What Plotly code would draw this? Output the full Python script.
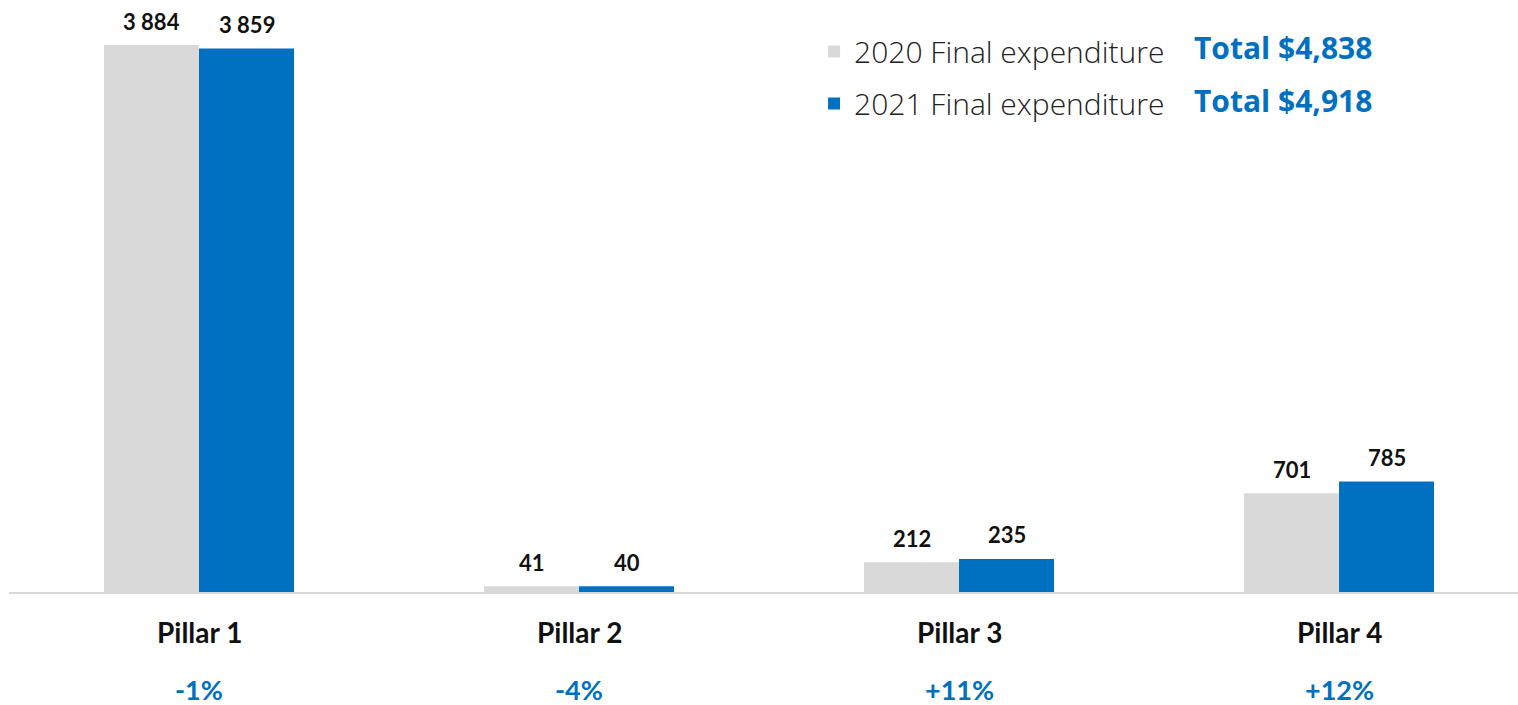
import plotly.graph_objects as go

categories = ["Pillar 1", "Pillar 2", "Pillar 3", "Pillar 4"]
values_2020 = [3884, 41, 212, 701]
values_2021 = [3859, 40, 235, 785]
labels_2020 = ["3 884", "41", "212", "701"]
labels_2021 = ["3 859", "40", "235", "785"]
changes = ["-1%", "-4%", "+11%", "+12%"]
series_names = ["2020 Final expenditure", "2021 Final expenditure"]
totals = ["Total $4,838", "Total $4,918"]

GRAY = "#D9D9D9"
BLUE = "#0070C0"
FONT = "Lato"

fig = go.Figure()
fig.add_trace(go.Bar(x=categories, y=values_2020, name=series_names[0], legendgroup="a",
                     marker=dict(color=GRAY, line=dict(width=0)), hoverinfo="skip"))
fig.add_trace(go.Bar(x=categories, y=values_2021, name=series_names[1], legendgroup="b",
                     marker=dict(color=BLUE, line=dict(width=0)), hoverinfo="skip"))

annotations = []
for i, c in enumerate(categories):
    annotations.append(dict(x=c, y=values_2020[i], text=labels_2020[i], showarrow=False,
                            xshift=-47.5, yshift=24, font=dict(family=FONT, size=22, color="#111", weight="bold")))
    annotations.append(dict(x=c, y=values_2021[i], text=labels_2021[i], showarrow=False,
                            xshift=47.5, yshift=24, font=dict(family=FONT, size=22, color="#111", weight="bold")))
    annotations.append(dict(x=c, y=0, yref="y", text=c, showarrow=False, yshift=-40,
                            font=dict(family=FONT, size=28, color="#111", weight="bold")))
    annotations.append(dict(x=c, y=0, yref="y", text=changes[i], showarrow=False, yshift=-97,
                            font=dict(family=FONT, size=27, color=BLUE, weight="bold")))

for j, t in enumerate(totals):
    annotations.append(dict(x=0.784, xref="paper", xanchor="left", y=[0.919, 0.831][j], yref="paper",
                            yanchor="middle", text=t, showarrow=False,
                            font=dict(family="Open Sans", size=30, color=BLUE, weight="bold")))

fig.update_layout(
    width=1518, height=705,
    margin=dict(l=9, r=0, t=0, b=113),
    paper_bgcolor="white", plot_bgcolor="white",
    barmode="group", bargap=0.5, bargroupgap=0,
    showlegend=True,
    legend=dict(x=0.5335, y=0.957, xanchor="left", yanchor="top", traceorder="grouped",
                font=dict(family="Open Sans", size=30, color="#222", weight=300),
                tracegroupgap=10, itemsizing="constant", bgcolor="rgba(0,0,0,0)"),
    xaxis=dict(type="category", range=[-0.5, 3.471], showticklabels=False, ticks="",
               showline=True, linecolor=GRAY, linewidth=2, showgrid=False, zeroline=False),
    yaxis=dict(range=[0, 4204], visible=False, showgrid=False, zeroline=False),
    annotations=annotations,
)

fig.write_html("out.html", post_script="document.body.style.margin='0';",
               config={"displayModeBar": False})
